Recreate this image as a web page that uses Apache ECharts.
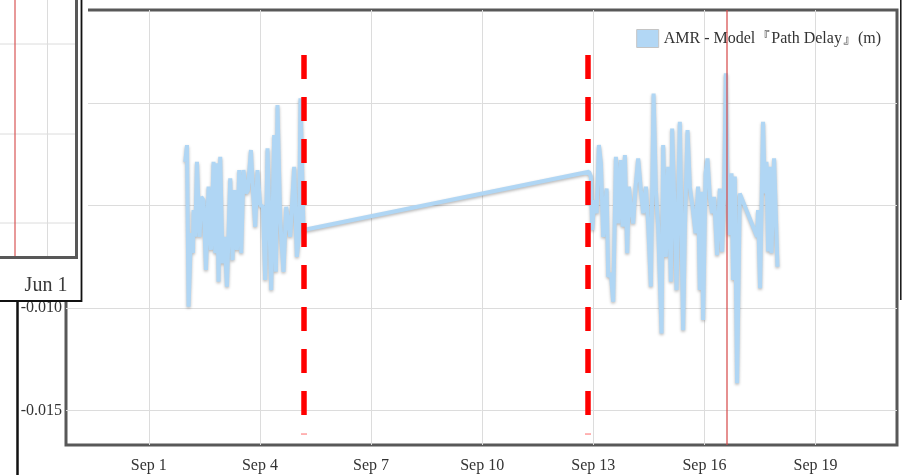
<!DOCTYPE html>
<html>
<head>
<meta charset="utf-8">
<script src="https://cdn.jsdelivr.net/npm/echarts@6/dist/echarts.min.js"></script>
<style>
  html, body { margin: 0; padding: 0; background: #fff; }
  #chart { width: 902px; height: 475px; }
</style>
</head>
<body>
<div id="chart"></div>
<script>
// AMR minus model path delay (metres), two observing sessions in September
const seriesName = 'AMR - Model『Path Delay』(m)';

const sampleTimes = [
  '2021-09-01 23:38', '2021-09-02 00:44', '2021-09-02 01:46', '2021-09-02 03:19', '2021-09-02 04:37',
  '2021-09-02 05:00', '2021-09-02 06:06', '2021-09-02 07:12', '2021-09-02 08:53', '2021-09-02 09:59',
  '2021-09-02 11:29', '2021-09-02 13:02', '2021-09-02 14:43', '2021-09-02 16:16', '2021-09-02 17:57',
  '2021-09-02 19:03', '2021-09-02 20:09', '2021-09-02 21:11', '2021-09-02 22:17', '2021-09-02 23:47',
  '2021-09-03 01:04', '2021-09-03 02:38', '2021-09-03 04:46', '2021-09-03 06:15', '2021-09-03 07:33',
  '2021-09-03 09:06', '2021-09-03 10:35', '2021-09-03 11:53', '2021-09-03 13:22', '2021-09-03 14:56',
  '2021-09-03 16:13', '2021-09-03 18:10', '2021-09-03 19:28', '2021-09-03 20:57', '2021-09-03 22:26',
  '2021-09-04 00:11', '2021-09-04 01:56', '2021-09-04 03:25', '2021-09-04 04:55', '2021-09-04 07:19',
  '2021-09-04 09:15', '2021-09-04 10:21', '2021-09-04 11:23', '2021-09-04 13:08', '2021-09-04 15:16',
  '2021-09-04 17:01', '2021-09-04 19:37', '2021-09-04 22:12', '2021-09-04 23:56', '2021-09-05 01:26',
  '2021-09-05 02:16', '2021-09-05 04:13',
  '2021-09-12 21:11', '2021-09-12 22:29', '2021-09-12 23:19', '2021-09-13 00:37', '2021-09-13 02:10',
  '2021-09-13 03:39', '2021-09-13 04:57', '2021-09-13 06:26', '2021-09-13 08:38', '2021-09-13 09:40',
  '2021-09-13 11:25', '2021-09-13 12:55', '2021-09-13 14:40', '2021-09-13 16:09', '2021-09-13 17:42',
  '2021-09-13 19:00', '2021-09-13 20:29', '2021-09-13 21:59', '2021-09-13 23:05', '2021-09-14 00:22',
  '2021-09-14 01:52', '2021-09-14 03:25', '2021-09-14 05:06', '2021-09-14 06:50', '2021-09-14 08:20',
  '2021-09-14 10:05', '2021-09-14 11:34', '2021-09-14 13:19', '2021-09-14 15:04', '2021-09-14 16:34',
  '2021-09-14 18:03', '2021-09-14 20:15', '2021-09-14 21:17', '2021-09-14 23:02', '2021-09-15 00:31',
  '2021-09-15 02:16', '2021-09-15 03:07', '2021-09-15 04:52', '2021-09-15 05:58', '2021-09-15 08:05',
  '2021-09-15 10:14', '2021-09-15 11:20', '2021-09-15 13:05', '2021-09-15 14:34', '2021-09-15 16:19',
  '2021-09-15 18:16', '2021-09-15 19:56', '2021-09-15 21:02', '2021-09-15 22:08', '2021-09-15 23:11',
  '2021-09-16 00:44', '2021-09-16 02:02', '2021-09-16 03:31', '2021-09-16 05:00', '2021-09-16 06:18',
  '2021-09-16 08:14', '2021-09-16 09:59', '2021-09-16 11:29', '2021-09-16 12:47', '2021-09-16 13:53',
  '2021-09-16 14:59', '2021-09-16 16:01', '2021-09-16 17:34', '2021-09-16 18:36', '2021-09-16 19:42',
  '2021-09-16 21:11', '2021-09-16 22:56', '2021-09-17 10:08', '2021-09-17 10:47', '2021-09-17 12:05',
  '2021-09-17 14:01', '2021-09-17 15:07', '2021-09-17 16:13', '2021-09-17 17:16', '2021-09-17 18:22',
  '2021-09-17 19:28', '2021-09-17 21:09', '2021-09-17 23:21'
];

const delayValues = [
  -0.00286, -0.00204, -0.00993, -0.00634, -0.00731,
  -0.00521, -0.00652, -0.00286, -0.00652, -0.00457,
  -0.00473, -0.00814, -0.00407, -0.00716, -0.00286,
  -0.00732, -0.00293, -0.00871, -0.00261, -0.00782,
  -0.00652, -0.00895, -0.00366, -0.00766, -0.00424,
  -0.00716, -0.00326, -0.00732, -0.00326, -0.00440,
  -0.00424, -0.00228, -0.00424, -0.00603, -0.00326,
  -0.00497, -0.00505, -0.00863, -0.00220, -0.00912,
  -0.00155, -0.00823, -0.00008, -0.00570, -0.00823,
  -0.00505, -0.00652, -0.00310, -0.00750, -0.00635,
   0.00024, -0.00619,
  -0.00334, -0.00358, -0.00619, -0.00473, -0.00537,
  -0.00204, -0.00293, -0.00652, -0.00416, -0.00847,
  -0.00830, -0.00969, -0.00261, -0.00587, -0.00277,
  -0.00603, -0.00253, -0.00732, -0.00407, -0.00505,
  -0.00587, -0.00407, -0.00269, -0.00424, -0.00537,
  -0.00407, -0.00587, -0.00895,  0.00048, -0.00424,
  -0.00603, -0.01124, -0.00204, -0.00750, -0.00310,
  -0.00871, -0.00123, -0.00587, -0.00912, -0.00090,
  -0.01108, -0.00619, -0.00131, -0.00407, -0.00505,
  -0.00635, -0.00407, -0.00912, -0.00432, -0.01058,
  -0.00342, -0.00269, -0.00457, -0.00537, -0.00457,
  -0.00741, -0.00416, -0.00724, -0.00424,  0.00146,
  -0.00424, -0.00643, -0.00342, -0.00863, -0.00358,
  -0.01367, -0.00440, -0.00652, -0.00521, -0.00903,
  -0.00090, -0.00440, -0.00286, -0.00724, -0.00310,
  -0.00732, -0.00269, -0.00798
];

// Axis extents and tick positions
const xRange = ['2021-08-29 18:21', '2021-09-21 04:48'];
const yRange = [-0.016685, 0.004556];
const xTickDates = ['2021-09-01 00:00', '2021-09-04 00:00', '2021-09-07 00:00', '2021-09-10 00:00', '2021-09-13 00:00', '2021-09-16 00:00', '2021-09-19 00:00'];
const xTickLabels = ['Sep 1', 'Sep 4', 'Sep 7', 'Sep 10', 'Sep 13', 'Sep 16', 'Sep 19'];
const yTickValues = [0, -0.005, -0.010, -0.015];
const yTickLabels = ['0.000', '-0.005', '-0.010', '-0.015'];

// Session boundaries (dashed) and an event marker (solid)
const sessionBounds = ['2021-09-05 04:34', '2021-09-12 20:35'];
const boundExtent = [0.00236, -0.01527];
const boundFootValue = -0.01615;
const eventTime = '2021-09-16 14:38';

const ts = s => new Date(s.replace(' ', 'T')).getTime();

const seriesData = sampleTimes.map((t, i) => [ts(t), delayValues[i]]);
const serif = '"Liberation Serif", "Times New Roman", serif';
const xMin = ts(xRange[0]);
const xMax = ts(xRange[1]);

const tickLabelStyle = { fontFamily: serif, fontSize: 16, color: '#333' };

const chart = echarts.init(document.getElementById('chart'), null, { renderer: 'canvas' });

chart.setOption({
  animation: false,
  backgroundColor: '#fff',
  grid: {
    left: 66, right: 5, top: 10, bottom: 30,
    show: true,
    borderColor: '#585858',
    borderWidth: 3,
    backgroundColor: 'transparent'
  },
  legend: {
    data: [seriesName],
    right: 16, top: 24,
    icon: 'rect',
    itemWidth: 22, itemHeight: 18,
    itemStyle: { color: '#b2d7f5', borderColor: '#c4c4c4', borderWidth: 1 },
    textStyle: { fontFamily: serif, fontSize: 16, color: '#333' }
  },
  xAxis: {
    type: 'time',
    min: xMin, max: xMax,
    show: false
  },
  yAxis: {
    type: 'value',
    min: yRange[0], max: yRange[1],
    show: false
  },
  series: [
    {
      // grid lines and tick labels, placed through the axes' own scales
      name: 'grid',
      type: 'line',
      data: [],
      silent: true,
      markLine: {
        z: 1,
        silent: true,
        symbol: 'none',
        animation: false,
        lineStyle: { color: '#dcdcdc', width: 1, type: 'solid' },
        data: [
          ...xTickDates.map((d, i) => [
            {
              coord: [ts(d), yRange[0]],
              label: Object.assign({ show: true, position: 'start', distance: 13, formatter: xTickLabels[i] }, tickLabelStyle)
            },
            { coord: [ts(d), yRange[1]] }
          ]),
          ...yTickValues.map((v, i) => [
            {
              coord: [xMin, v],
              label: Object.assign({ show: true, position: 'start', distance: 4, formatter: yTickLabels[i] }, tickLabelStyle)
            },
            { coord: [xMax, v] }
          ])
        ]
      }
    },
    {
      name: seriesName,
      type: 'line',
      data: seriesData,
      z: 2,
      showSymbol: false,
      symbol: 'none',
      color: '#b2d7f5',
      lineStyle: {
        color: '#b0d6f4',
        width: 4,
        shadowColor: 'rgba(0,0,0,0.28)',
        shadowBlur: 3,
        shadowOffsetY: 1.5
      },
      markLine: {
        silent: true,
        symbol: 'none',
        animation: false,
        label: { show: false },
        data: [
          ...sessionBounds.map(t => [
            { coord: [ts(t), boundExtent[0]], lineStyle: { color: '#ff0000', width: 5.5, type: [24, 18] } },
            { coord: [ts(t), boundExtent[1]] }
          ]),
          [
            { coord: [ts(eventTime), yRange[1]], lineStyle: { color: 'rgba(214,70,70,0.6)', width: 2, type: 'solid' } },
            { coord: [ts(eventTime), yRange[0]] }
          ]
        ]
      },
      markPoint: {
        silent: true,
        animation: false,
        symbol: 'rect',
        symbolSize: [6, 1.5],
        itemStyle: { color: '#ff9c9c' },
        label: { show: false },
        data: sessionBounds.map(t => ({ coord: [ts(t), boundFootValue] }))
      }
    }
  ],
  graphic: [
    // overlapping panel in the upper-left corner
    { type: 'rect', z: 100, shape: { x: 0, y: 0, width: 88, height: 301 }, style: { fill: '#fff' } },
    { type: 'line', z: 101, shape: { x1: 0, y1: 44, x2: 76, y2: 44 }, style: { stroke: '#dcdcdc', lineWidth: 1 } },
    { type: 'line', z: 101, shape: { x1: 0, y1: 134, x2: 76, y2: 134 }, style: { stroke: '#dcdcdc', lineWidth: 1 } },
    { type: 'line', z: 101, shape: { x1: 0, y1: 223, x2: 76, y2: 223 }, style: { stroke: '#dcdcdc', lineWidth: 1 } },
    { type: 'line', z: 101, shape: { x1: 47.5, y1: 0, x2: 47.5, y2: 257 }, style: { stroke: '#dcdcdc', lineWidth: 1 } },
    { type: 'line', z: 102, shape: { x1: 15, y1: 0, x2: 15, y2: 257 }, style: { stroke: 'rgba(214,70,70,0.55)', lineWidth: 2 } },
    { type: 'polyline', z: 103, shape: { points: [[76.5, 0], [76.5, 257.5], [0, 257.5]] }, style: { stroke: '#585858', lineWidth: 3, fill: null } },
    { type: 'polyline', z: 103, shape: { points: [[81.5, 0], [81.5, 301], [0, 301]] }, style: { stroke: '#111', lineWidth: 1.8, fill: null } },
    { type: 'text', z: 104, style: { text: 'Jun 1', x: 46, y: 286, align: 'center', verticalAlign: 'middle', font: '20px ' + serif, fill: '#3a3a3a' } },
    // stray frame edges
    { type: 'line', z: 100, shape: { x1: 17.5, y1: 300, x2: 17.5, y2: 475 }, style: { stroke: '#111', lineWidth: 2.5 } },
    { type: 'line', z: 100, shape: { x1: 900.8, y1: 0, x2: 900.8, y2: 300 }, style: { stroke: '#111', lineWidth: 1.5 } }
  ]
});
</script>
</body>
</html>
